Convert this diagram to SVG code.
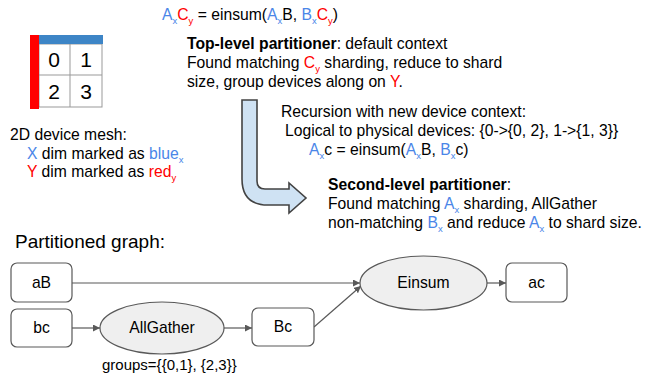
<svg xmlns="http://www.w3.org/2000/svg" width="648" height="379" viewBox="0 0 648 379">
<style>
text{font-family:"Liberation Sans",Arial,sans-serif;font-size:15.7px;fill:#000}
.b{fill:#4a86e8}
.r{fill:#ff0000}
.s{font-size:9.5px}
.bold{font-weight:bold}
.box{fill:#fff;stroke:#595959;stroke-width:1.2}
.ell{fill:#efefef;stroke:#595959;stroke-width:1.2}
.lbl{text-anchor:middle}
.edge{stroke:#595959;stroke-width:1.2;fill:none;marker-end:url(#ah)}
.digit{font-size:21px;text-anchor:middle}
</style>
<defs>
<marker id="ah" viewBox="0 0 10 10" refX="10" refY="5" markerWidth="7" markerHeight="7" markerUnits="userSpaceOnUse" orient="auto">
<path d="M0,0 L10,5 L0,10 Z" fill="#595959"/>
</marker>
</defs>

<g id="mesh">
<rect x="39" y="44" width="63" height="63" fill="#fff" stroke="#999" stroke-width="1"/>
<line x1="70" y1="44" x2="70" y2="107" stroke="#999" stroke-width="1"/>
<line x1="39" y1="75" x2="102" y2="75" stroke="#999" stroke-width="1"/>
<rect x="30" y="35" width="9" height="74" fill="#ff0000"/>
<rect x="39" y="35" width="64" height="9" fill="#3d85c6"/>
<text class="digit" x="54" y="67">0</text>
<text class="digit" x="86" y="67">1</text>
<text class="digit" x="54" y="99">2</text>
<text class="digit" x="86" y="99">3</text>
</g>

<g id="mesh-legend">
<text x="10" y="140">2D device mesh:</text>
<text x="27" y="159"><tspan class="b">X</tspan> dim marked as <tspan class="b">blue</tspan><tspan class="b s" dy="4">x</tspan></text>
<text x="27" y="177"><tspan class="r">Y</tspan> dim marked as <tspan class="r">red</tspan><tspan class="r s" dy="4">y</tspan></text>
</g>

<g id="top-eq">
<text x="162" y="20"><tspan class="b">A</tspan><tspan class="b s" dy="4">x</tspan><tspan class="r" dy="-4">C</tspan><tspan class="r s" dy="4">y</tspan><tspan dy="-4"> = einsum(</tspan><tspan class="b">A</tspan><tspan class="b s" dy="4">x</tspan><tspan dy="-4">B, </tspan><tspan class="b">B</tspan><tspan class="b s" dy="4">x</tspan><tspan class="r" dy="-4">C</tspan><tspan class="r s" dy="4">y</tspan><tspan dy="-4">)</tspan></text>
</g>

<g id="top-level">
<text x="187" y="49"><tspan class="bold">Top-level partitioner</tspan>: default context</text>
<text x="187" y="68">Found matching <tspan class="r">C</tspan><tspan class="r s" dy="4">y</tspan><tspan dy="-4"> sharding, reduce to shard</tspan></text>
<text x="187" y="87">size, group devices along on <tspan class="r">Y</tspan>.</text>
</g>

<g id="bent-arrow">
<path d="M242,100 H257 V181 Q257,189 265,189 H289 V183 L306,198 L289,213 V205 H268 Q242,205 242,179 Z" fill="#cfe2f3" stroke="#434343" stroke-width="1.6" stroke-linejoin="miter"/>
</g>

<g id="recursion">
<text x="281" y="117">Recursion with new device context:</text>
<text x="285" y="136">Logical to physical devices: {0-&gt;{0, 2}, 1-&gt;{1, 3}}</text>
<text x="309" y="155"><tspan class="b">A</tspan><tspan class="b s" dy="4">x</tspan><tspan dy="-4">c = einsum(</tspan><tspan class="b">A</tspan><tspan class="b s" dy="4">x</tspan><tspan dy="-4">B, </tspan><tspan class="b">B</tspan><tspan class="b s" dy="4">x</tspan><tspan dy="-4">c)</tspan></text>
</g>

<g id="second-level">
<text x="328" y="190"><tspan class="bold">Second-level partitioner</tspan>:</text>
<text x="328" y="209">Found matching <tspan class="b">A</tspan><tspan class="b s" dy="4">x</tspan><tspan dy="-4"> sharding, AllGather</tspan></text>
<text x="328" y="228">non-matching <tspan class="b">B</tspan><tspan class="b s" dy="4">x</tspan><tspan dy="-4"> and reduce </tspan><tspan class="b">A</tspan><tspan class="b s" dy="4">x</tspan><tspan dy="-4"> to shard size.</tspan></text>
</g>

<g id="graph-title">
<text x="15" y="248" style="font-size:19px">Partitioned graph:</text>
</g>

<g id="edges">
<line class="edge" x1="72" y1="283" x2="360" y2="283"/>
<line class="edge" x1="72" y1="328" x2="100" y2="328"/>
<line class="edge" x1="224" y1="328" x2="252" y2="328"/>
<line class="edge" x1="314" y1="327" x2="361" y2="286"/>
<line class="edge" x1="487" y1="283" x2="506" y2="283"/>
</g>

<g id="node-aB">
<rect class="box" x="11" y="263" width="61" height="39" rx="6"/>
<text class="lbl" x="41.5" y="288">aB</text>
</g>
<g id="node-bc">
<rect class="box" x="11" y="309" width="61" height="38" rx="6"/>
<text class="lbl" x="41.5" y="333">bc</text>
</g>
<g id="node-allgather">
<ellipse class="ell" cx="162" cy="328" rx="62" ry="26"/>
<text class="lbl" x="162" y="333">AllGather</text>
<text x="102" y="370" style="font-size:15px">groups={{0,1}, {2,3}}</text>
</g>
<g id="node-Bc">
<rect class="box" x="252" y="308" width="62" height="38" rx="6"/>
<text class="lbl" x="283" y="332">Bc</text>
</g>
<g id="node-einsum">
<ellipse class="ell" cx="423.5" cy="283" rx="63.5" ry="27"/>
<text class="lbl" x="423.5" y="288">Einsum</text>
</g>
<g id="node-ac">
<rect class="box" x="506" y="263" width="61" height="39" rx="6"/>
<text class="lbl" x="536.5" y="288">ac</text>
</g>
</svg>
